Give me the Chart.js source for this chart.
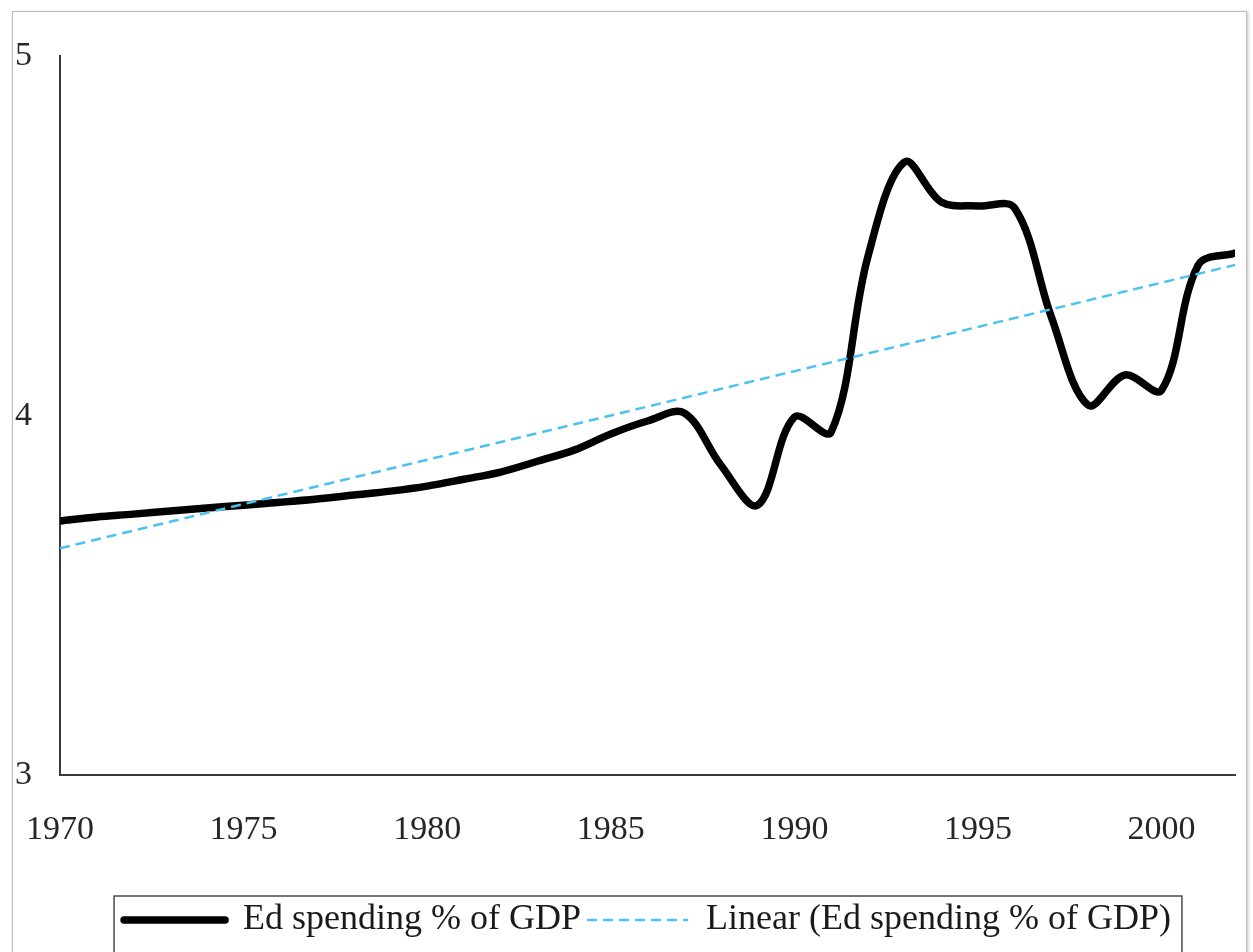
<!DOCTYPE html>
<html>
<head>
<meta charset="utf-8">
<script src="https://cdn.jsdelivr.net/npm/chart.js@4.4.1/dist/chart.umd.min.js"></script>
<style>
    html, body { margin: 0; padding: 0; background: #fff; overflow: hidden; width: 1253px; height: 952px; }
    #wrap { position: relative; width: 1253px; height: 960px; }
    #frame {
        position: absolute; left: 12px; top: 11px; width: 1233px; height: 1000px;
        border: 1.5px solid #bdbdbd; box-shadow: 1px 1px 3px rgba(0,0,0,0.25);
        pointer-events: none;
    }
    canvas { position: absolute; left: 0; top: 0; }
</style>
</head>
<body>
<div id="wrap">
    <div id="frame"></div>
    <canvas id="eduChart" width="1253" height="960"></canvas>
</div>
<script>
// Education spending as % of GDP
const years = [1970, 1971, 1972, 1973, 1974, 1975, 1976, 1977, 1978, 1979,
               1980, 1981, 1982, 1983, 1984, 1985, 1986, 1987, 1988, 1989,
               1990, 1991, 1992, 1993, 1994, 1995, 1996, 1997, 1998, 1999,
               2000, 2001, 2002];
const eduSpending = [3.707, 3.718, 3.726, 3.735, 3.743, 3.751, 3.759, 3.768, 3.779, 3.790,
                     3.804, 3.823, 3.843, 3.873, 3.904, 3.949, 3.985, 4.007, 3.862, 3.751,
                     3.996, 3.954, 4.441, 4.705, 4.594, 4.583, 4.577, 4.274, 4.029, 4.113,
                     4.071, 4.419, 4.452];

// Linear trendline end points (as drawn in the picture)
const trendYears = [1970, 2002];
const trendValues = [3.631, 4.419];

const seriesLabel = 'Ed spending % of GDP';
const trendLabel = 'Linear (Ed spending % of GDP)';

const xMin = 1970, xMax = 2002, xStep = 5;
const yMin = 3, yMax = 5, yStep = 1;

const serif = "'Liberation Serif', 'Times New Roman', serif";

// Box drawn round the legend, like the Excel one
const legendFrame = {
    id: 'legendFrame',
    afterDraw(chart) {
        const boxes = chart.legend.legendHitBoxes;
        if (!boxes || !boxes.length) return;
        const first = boxes[0];
        const last = boxes[boxes.length - 1];
        const left = first.left - 10;
        const right = last.left + last.width + 11;
        const ctx = chart.ctx;
        ctx.save();
        ctx.strokeStyle = '#4a4a4a';
        ctx.lineWidth = 1.5;
        ctx.strokeRect(left, first.top - 6, right - left, 200);
        ctx.restore();
    }
};

function buildChart() {
    const ctx = document.getElementById('eduChart').getContext('2d');
    new Chart(ctx, {
        type: 'line',
        data: {
            datasets: [
                {
                    label: seriesLabel,
                    data: years.map((yr, i) => ({ x: yr, y: eduSpending[i] })),
                    borderColor: '#000000',
                    backgroundColor: '#000000',
                    borderWidth: 7.5,
                    borderCapStyle: 'round',
                    borderJoinStyle: 'round',
                    tension: 0.35,
                    pointRadius: 0,
                    fill: false,
                    order: 1
                },
                {
                    label: trendLabel,
                    data: trendYears.map((yr, i) => ({ x: yr, y: trendValues[i] })),
                    borderColor: '#4cc3ee',
                    backgroundColor: '#4cc3ee',
                    borderWidth: 2.5,
                    // even dash + box width 101 keeps the legend sample dashed
                    borderDash: [10, 6],
                    pointRadius: 0,
                    fill: false,
                    order: 0
                }
            ]
        },
        options: {
            responsive: false,
            animation: false,
            layout: { padding: { left: 15, right: 18, top: 56, bottom: 12 } },
            plugins: {
                tooltip: { enabled: false },
                legend: {
                    position: 'bottom',
                    fullSize: false,
                    labels: {
                        font: { family: serif, size: 36 },
                        color: '#1a1a1a',
                        boxWidth: 101,
                        boxHeight: 0,
                        padding: 6,
                        sort: (a, b) => a.datasetIndex - b.datasetIndex
                    }
                }
            },
            scales: {
                x: {
                    type: 'linear',
                    min: xMin,
                    max: xMax,
                    grid: { display: false, drawTicks: false },
                    border: { display: true, color: '#3a3a3a', width: 2 },
                    ticks: {
                        stepSize: xStep,
                        includeBounds: false,
                        maxRotation: 0,
                        autoSkip: false,
                        padding: 26,
                        color: '#262626',
                        font: { family: serif, size: 34, lineHeight: 1.7 },
                        callback: v => String(v)
                    },
                    title: {
                        display: true,
                        text: '',
                        font: { size: 5 },
                        padding: { top: 0, bottom: 5 }
                    }
                },
                y: {
                    min: yMin,
                    max: yMax,
                    grid: { display: false, drawTicks: false },
                    border: { display: true, color: '#3a3a3a', width: 2 },
                    ticks: {
                        stepSize: yStep,
                        crossAlign: 'far',
                        padding: 14,
                        color: '#262626',
                        font: { family: serif, size: 34 }
                    }
                }
            }
        },
        plugins: [legendFrame]
    });
}

window.onload = buildChart;
</script>
</body>
</html>
